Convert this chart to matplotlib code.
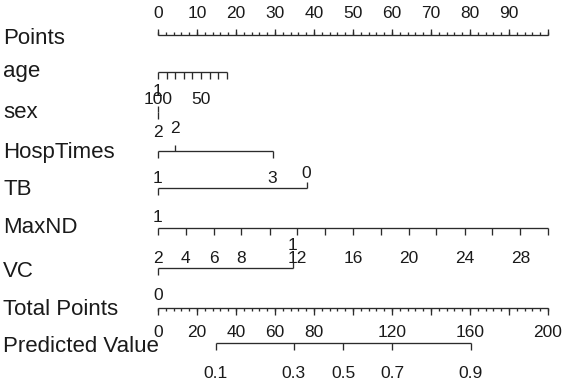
import matplotlib
matplotlib.use('Agg')
import matplotlib.pyplot as plt

plt.rcParams['font.family'] = ['Liberation Sans', 'DejaVu Sans']

# ---------------- data ----------------
row_names = ['Points', 'age', 'sex', 'HospTimes', 'TB', 'MaxND', 'VC',
             'Total Points', 'Predicted Value']

points_major = [0, 10, 20, 30, 40, 50, 60, 70, 80, 90, 100]
points_labels = ['0', '10', '20', '30', '40', '50', '60', '70', '80', '90', '']
points_minor_step = 2

age_values = ['100', '90', '80', '70', '60', '50', '40', '30', '20']
age_points = [0, 2.2, 4.4, 6.6, 8.8, 11.1, 13.3, 15.5, 17.7]
age_shown = ['100', '50']

sex_values = ['1', '2']
sex_points = [0, 0]

hosp_values = ['1', '2', '3']
hosp_points = [0, 4.4, 29.4]

tb_values = ['1', '0']
tb_points = [0, 38.1]

maxnd_values = ['2', '4', '6', '8', '10', '12', '14', '16', '18', '20',
                '22', '24', '26', '28', '30']
maxnd_points = [0, 7.1, 14.3, 21.4, 28.6, 35.7, 42.9, 50, 57.1, 64.3,
                71.4, 78.6, 85.7, 92.9, 100]
maxnd_shown = ['2', '4', '6', '8', '12', '16', '20', '24', '28']

vc_values = ['0', '1']
vc_points = [0, 34.6]

total_major = [0, 20, 40, 60, 80, 100, 120, 140, 160, 180, 200]
total_labels = ['0', '20', '40', '60', '80', '', '120', '', '160', '', '200']
total_minor_step = 4
total_max = 200
points_max = 100

pred_values = ['0.1', '0.3', '0.5', '0.7', '0.9']
pred_total_points = [29.7, 69.6, 95.1, 120.2, 160.3]

# ---------------- layout ----------------
W, H = 566, 382
PX0, PX_PER_PT = 158, 3.9
LINE_C = '#2b2b2b'
TXT_C = '#1a1a1a'
LW = 0.95
TICK_FS = 12.5
ROW_FS = 16
TICK_LEN = 6.5

fig = plt.figure(figsize=(W / 100, H / 100), dpi=100)
ax = fig.add_axes([0, 0, 1, 1])
ax.set_xlim(-PX0 / PX_PER_PT, (W - PX0) / PX_PER_PT)
ax.set_ylim(H, 0)
ax.axis('off')

row_y = {'Points': 35, 'age': 72, 'sex': 112, 'HospTimes': 151, 'TB': 188,
         'MaxND': 228, 'VC': 268, 'Total Points': 308, 'Predicted Value': 343}
row_baseline = {'Points': 44, 'age': 77, 'sex': 118, 'HospTimes': 158, 'TB': 195,
                'MaxND': 233, 'VC': 277, 'Total Points': 315, 'Predicted Value': 352}
# baseline of value labels above / below each axis line
above_base = {'sex': 96, 'HospTimes': 133, 'TB': 178, 'VC': 250}
below_base = {'age': 104, 'sex': 137, 'HospTimes': 183, 'TB': 222,
              'MaxND': 263, 'VC': 300, 'Total Points': 337, 'Predicted Value': 378}

label_x = ax.get_xlim()[0] + 3 / PX_PER_PT
for name in row_names:
    ax.text(label_x, row_baseline[name], name, fontsize=ROW_FS, color=TXT_C,
            ha='left', va='baseline')


def seg(x0, x1, y0, y1):
    ax.plot([x0, x1], [y0, y1], color=LINE_C, lw=LW, solid_capstyle='butt')


def value_axis(name, values, pts, sides, shown=None):
    y = row_y[name]
    seg(min(pts), max(pts), y, y)
    for v, p, s in zip(values, pts, sides):
        if s == 'up':
            seg(p, p, y, y - TICK_LEN)
            yb = above_base[name]
        else:
            seg(p, p, y, y + TICK_LEN)
            yb = below_base[name]
        if shown is None or v in shown:
            ax.text(p, yb, v, fontsize=TICK_FS, color=TXT_C, ha='center', va='baseline')


# Points axis (ticks and labels above)
y = row_y['Points']
seg(points_major[0], points_major[-1], y, y)
for p in range(points_major[0], points_major[-1] + 1, points_minor_step):
    seg(p, p, y, y - 3)
for p, lab in zip(points_major, points_labels):
    seg(p, p, y, y - 6.5)
    if lab:
        ax.text(p, 18, lab, fontsize=TICK_FS, color=TXT_C, ha='center', va='baseline')

value_axis('age', age_values, age_points, ['down'] * len(age_values), age_shown)
value_axis('sex', sex_values, sex_points, ['up', 'down'])
value_axis('HospTimes', hosp_values, hosp_points, ['down', 'up', 'down'])
value_axis('TB', tb_values, tb_points, ['down', 'up'])
value_axis('MaxND', maxnd_values, maxnd_points, ['down'] * len(maxnd_values), maxnd_shown)
value_axis('VC', vc_values, vc_points, ['down', 'up'])

# Total points axis (ticks and labels below)
scale = points_max / total_max
y = row_y['Total Points']
seg(total_major[0] * scale, total_major[-1] * scale, y, y)
for t in range(total_major[0], total_major[-1] + 1, total_minor_step):
    seg(t * scale, t * scale, y, y + 3)
for t, lab in zip(total_major, total_labels):
    seg(t * scale, t * scale, y, y + 6.5)
    if lab:
        ax.text(t * scale, below_base['Total Points'], lab, fontsize=TICK_FS,
                color=TXT_C, ha='center', va='baseline')

# Predicted value axis
pred_pts = [t * scale for t in pred_total_points]
value_axis('Predicted Value', pred_values, pred_pts, ['down'] * len(pred_values))

fig.savefig('out.png', dpi=100)
